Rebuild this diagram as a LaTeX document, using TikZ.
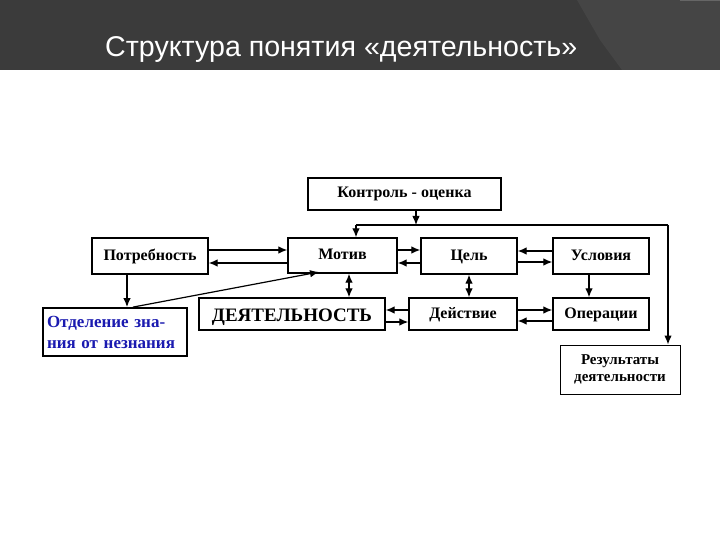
\documentclass[tikz,border=0pt]{standalone}
\usepackage{fontspec}
\setmainfont{Liberation Serif}
\newfontfamily\titlefont{Liberation Sans}
\usetikzlibrary{arrows.meta}
\definecolor{bandcol}{HTML}{3B3B3B}
\definecolor{bandlight}{HTML}{454545}
\definecolor{bluetext}{HTML}{1A1AB0}
\tikzset{
  box/.style={draw=black, line width=1.4pt, inner sep=0pt, text height=11pt, text depth=3pt, font=\bfseries\fontsize{16}{18}\selectfont},
  conn/.style={line width=1.2pt, -{Latex[length=9pt,width=7.5pt]}},
  dconn/.style={line width=1.2pt, {Latex[length=9pt,width=7.5pt]}-{Latex[length=9pt,width=7.5pt]}},
  plain/.style={line width=1.2pt},
}
\begin{document}
\begin{tikzpicture}[x=1pt,y=-1pt]
\useasboundingbox (0,0) rectangle (720,540);
\fill[white] (0,0) rectangle (720,540);
% header band
\fill[bandcol] (0,0) rectangle (720,70);
\fill[bandlight] (577,0) -- (720,0) -- (720,70) -- (622,70) -- (600,40) -- cycle;
\fill[black!60] (680,0) rectangle (720,1.2);
\node[anchor=base west, text=white, inner sep=0pt, font=\titlefont\fontsize{28.6}{32}\selectfont] (title) at (105,57) {Структура понятия «деятельность»};

% boxes
\node[box, minimum width=193pt, minimum height=32pt] (kontr) at (404.5,194) {Контроль - оценка};
\node[box, minimum width=116pt, minimum height=36pt] (potr) at (150,256) {Потребность};
\node[box, minimum width=109pt, minimum height=35pt] (motiv) at (342.5,255.5) {Мотив};
\node[box, minimum width=96pt, minimum height=36pt] (cel) at (469,256) {Цель};
\node[box, minimum width=96pt, minimum height=36pt] (usl) at (601,256) {Условия};
\node[box, minimum width=186pt, minimum height=32pt, text height=14pt, text depth=0pt, font=\bfseries\fontsize{19}{20}\selectfont] (deyat) at (292,314) {ДЕЯТЕЛЬНОСТЬ};
\node[box, minimum width=108pt, minimum height=32pt] (deyst) at (463,314) {Действие};
\node[box, minimum width=96pt, minimum height=32pt] (oper) at (601,314) {Операции};
\node[box, minimum width=120pt, minimum height=49pt, align=center, line width=1pt, text height=, text depth=, font=\bfseries\fontsize{15}{17}\selectfont] (rez) at (620,369.5) {Результаты\\деятельности};
\node[box, minimum width=144pt, minimum height=48pt, line width=1.8pt, text=bluetext, align=left, text width=136pt, text height=, text depth=, font=\bfseries\fontsize{17}{21}\selectfont] (otd) at (115,332) {Отделение зна-\\ния от незнания};

% feedback from control
\coordinate (j) at (416,225);
\coordinate (jl) at (356,225);
\coordinate (jr) at (668,225);
\coordinate (mtip) at (319,272);
\draw[conn] (kontr.south -| j) -- (j);
\draw[plain] (jl) -- (jr);
\draw[conn] (jl) -- (motiv.north -| jl);
\draw[conn] (jr) -- (rez.north -| jr);

% horizontal pairs
\draw[conn] (potr.east |- 0,250) -- (motiv.west |- 0,250);
\draw[conn] (motiv.west |- 0,263) -- (potr.east |- 0,263);
\draw[conn] (motiv.east |- 0,250) -- (cel.west |- 0,250);
\draw[conn] (cel.west |- 0,263) -- (motiv.east |- 0,263);
\draw[conn] (usl.west |- 0,251) -- (cel.east |- 0,251);
\draw[conn] (cel.east |- 0,262) -- (usl.west |- 0,262);
\draw[conn] (deyst.west |- 0,310) -- (deyat.east |- 0,310);
\draw[conn] (deyat.east |- 0,322) -- (deyst.west |- 0,322);
\draw[conn] (deyst.east |- 0,310) -- (oper.west |- 0,310);
\draw[conn] (oper.west |- 0,321) -- (deyst.east |- 0,321);

% vertical
\draw[dconn] (motiv.south -| 349,0) -- (deyat.north -| 349,0);
\draw[dconn] (cel.south -| 469,0) -- (deyst.north -| 469,0);
\draw[conn] (usl.south -| 589,0) -- (oper.north -| 589,0);
\draw[conn] (potr.south -| 127,0) -- (otd.north -| 127,0);
\draw[conn] (otd.north -| 133,0) -- (mtip);
\end{tikzpicture}
\end{document}
